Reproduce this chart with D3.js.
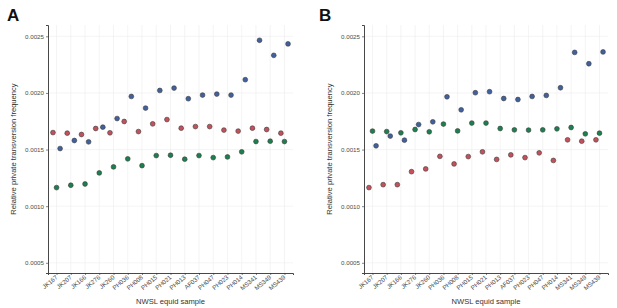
<!DOCTYPE html>
<html>
<head>
<meta charset="utf-8">
<script src="https://cdn.jsdelivr.net/npm/d3@7"></script>
<style>
  body { margin: 0; background: #fff; }
  svg { font-family: "Liberation Sans", Arial, sans-serif; }
</style>
</head>
<body>
<div id="chart"></div>
<script>
// Relative private transversion frequency per NWSL equid sample, two panels

const samplesA = ['JK167', 'JK207', 'JK166', 'JK276', 'JK260', 'PH036', 'PH008', 'PH015', 'PH021',
    'PH013', 'AF037', 'PH047', 'PH023', 'PH014', 'MS341', 'MS349', 'MS439'];
const samplesB = ['JK167', 'JK207', 'JK166', 'JK276', 'JK260', 'PH036', 'PH008', 'PH015', 'PH021',
    'PH013', 'AF037', 'PH023', 'PH047', 'PH014', 'MS341', 'MS349', 'MS439'];

// panel A
const redA = [0.00165, 0.001645, 0.001633, 0.001686, 0.001648, 0.001748, 0.001659, 0.001727, 0.001765,
    0.001689, 0.001703, 0.001703, 0.001672, 0.001663, 0.001689, 0.001677, 0.001645];
const greenA = [0.001164, 0.001185, 0.001196, 0.001294, 0.001347, 0.001418, 0.001358, 0.001447, 0.00145,
    0.001415, 0.001447, 0.001429, 0.001435, 0.00148, 0.001571, 0.001574, 0.001571];
const blueA = [0.001509, 0.00158, 0.001568, 0.001698, 0.001774, 0.001969, 0.001866, 0.002022, 0.002043,
    0.001949, 0.001981, 0.00199, 0.001981, 0.002117, 0.002465, 0.002332, 0.002433];

// panel B
const redB = [0.001164, 0.00119, 0.00119, 0.001305, 0.001329, 0.00144, 0.001373, 0.001438, 0.00148,
    0.001413, 0.001453, 0.001429, 0.001471, 0.001404, 0.001586, 0.001574, 0.001586];
const greenB = [0.001663, 0.001659, 0.001648, 0.001677, 0.001657, 0.001725, 0.001665, 0.001734, 0.001734,
    0.001686, 0.001674, 0.001672, 0.001674, 0.001683, 0.001695, 0.001639, 0.001645];
const blueB = [0.001533, 0.001619, 0.001583, 0.001721, 0.001745, 0.001966, 0.001851, 0.002002, 0.002011,
    0.001951, 0.001942, 0.001969, 0.001978, 0.002046, 0.002358, 0.002258, 0.002362];

const yTicks = [0.0005, 0.0010, 0.0015, 0.0020, 0.0025];
const seriesOrder = ['red', 'green', 'blue'];
const seriesColors = { red: '#c4505c', green: '#1b7f4e', blue: '#40609e' };

const width = 617, height = 308;
const svg = d3.select('#chart').append('svg')
    .attr('width', width)
    .attr('height', height);

function drawPanel(label, labelX, left, right, samples, series) {
    const top = 25, bottom = 273;
    const g = svg.append('g');

    const x = d3.scalePoint().domain(samples).range([left, right]).padding(0.6);
    const y = d3.scaleLinear().domain([0.00041, 0.0026]).range([bottom, top]);
    const dodge = d3.scalePoint().domain(seriesOrder)
        .range([-0.25 * x.step(), 0.25 * x.step()]);

    // grid
    g.selectAll('.vgrid').data(samples).enter().append('line')
        .attr('x1', d => x(d)).attr('x2', d => x(d))
        .attr('y1', top).attr('y2', bottom)
        .attr('stroke', '#ececec').attr('stroke-width', 0.6);
    g.selectAll('.hgrid').data(yTicks).enter().append('line')
        .attr('x1', left).attr('x2', right)
        .attr('y1', d => y(d)).attr('y2', d => y(d))
        .attr('stroke', '#ececec').attr('stroke-width', 0.6);

    // axes
    const yAxis = g.append('g')
        .attr('transform', `translate(${left},0)`)
        .call(d3.axisLeft(y).tickValues(yTicks).tickFormat(d3.format('.4f')).tickSize(2).tickPadding(2));
    const xAxis = g.append('g')
        .attr('transform', `translate(0,${bottom})`)
        .call(d3.axisBottom(x).tickSize(2).tickPadding(2));
    [yAxis, xAxis].forEach(a => {
        a.select('.domain').attr('stroke', '#333').attr('stroke-width', 0.9);
        a.selectAll('.tick line').attr('stroke', '#333').attr('stroke-width', 0.6);
        a.selectAll('text').attr('fill', '#4d4d4d').attr('font-size', '6.2px');
    });
    xAxis.selectAll('text')
        .attr('text-anchor', 'end')
        .attr('dy', null)
        .attr('y', 0)
        .attr('transform', 'translate(1,5) rotate(-40)');

    // points
    seriesOrder.forEach(s => {
        g.selectAll('.pt-' + s).data(samples.map((d, i) => ({ sample: d, value: series[s][i] })))
            .enter().append('circle')
            .attr('cx', d => x(d.sample) + dodge(s))
            .attr('cy', d => y(d.value))
            .attr('r', 2.4)
            .attr('fill', seriesColors[s])
            .attr('stroke', '#3a3a3a')
            .attr('stroke-width', 0.6);
    });

    // titles
    g.append('text')
        .attr('x', (left + right) / 2)
        .attr('y', 304)
        .attr('text-anchor', 'middle')
        .attr('fill', '#333')
        .attr('font-size', '7.6px')
        .text('NWSL equid sample');
    g.append('text')
        .attr('transform', `translate(${left - 32},${(top + bottom) / 2}) rotate(-90)`)
        .attr('text-anchor', 'middle')
        .attr('fill', '#333')
        .attr('font-size', '7.6px')
        .text('Relative private transversion frequency');

    g.append('text')
        .attr('x', labelX)
        .attr('y', 21)
        .attr('fill', '#111')
        .attr('font-size', '17px')
        .attr('font-weight', 'bold')
        .text(label);
}

drawPanel('A', 7, 48, 293, samplesA, { red: redA, green: greenA, blue: blueA });
drawPanel('B', 319, 364, 608, samplesB, { red: redB, green: greenB, blue: blueB });
</script>
</body>
</html>
